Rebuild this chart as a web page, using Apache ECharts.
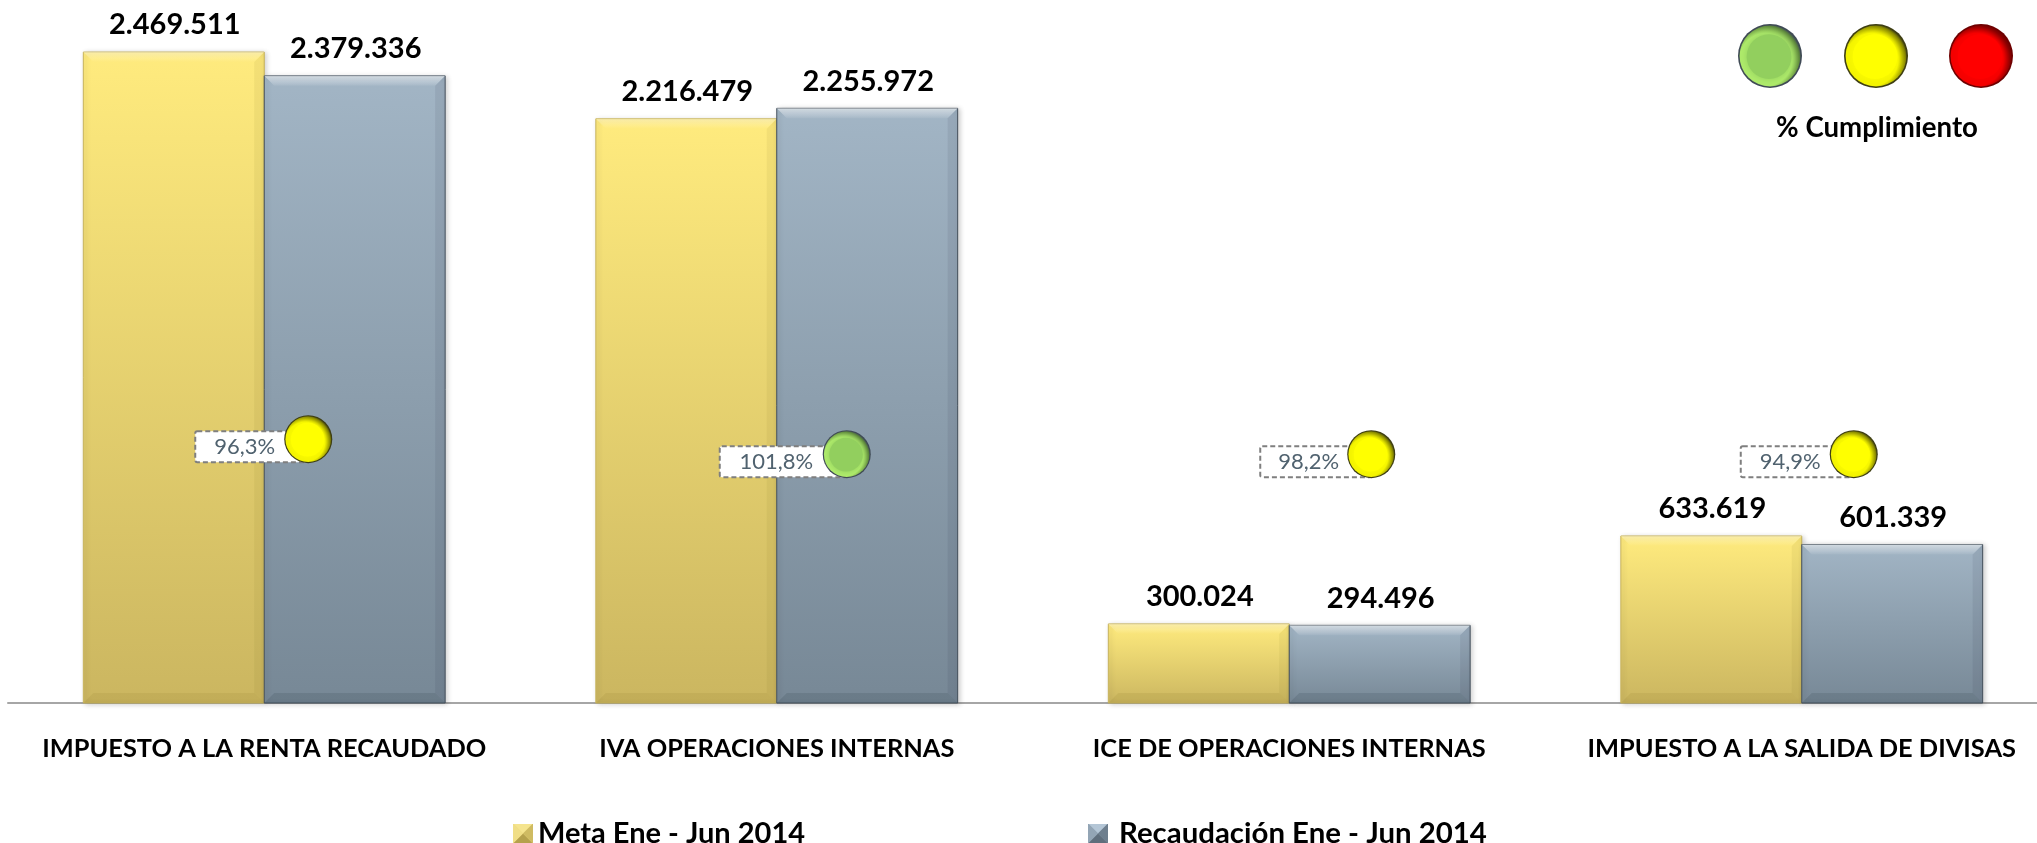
<!DOCTYPE html>
<html><head><meta charset="utf-8">
<script src="https://cdn.jsdelivr.net/npm/echarts@6/dist/echarts.min.js"></script>
<style>html,body{margin:0;padding:0;background:#fff;overflow:hidden}#c{width:2037px;height:843px}</style>
</head><body><div id="c"></div>
<script>
const categories = ['IMPUESTO A LA RENTA RECAUDADO','IVA OPERACIONES INTERNAS','ICE DE OPERACIONES INTERNAS','IMPUESTO A LA SALIDA DE DIVISAS'];
const metaName = 'Meta Ene - Jun 2014';
const recaudName = 'Recaudación Ene - Jun 2014';
const meta = [2469511, 2216479, 300024, 633619];
const recaudacion = [2379336, 2255972, 294496, 601339];
const cumplimiento = ['96,3%','101,8%','98,2%','94,9%'];
const semaforo = ['yellow','green','yellow','yellow'];
const markerLevel = [1001000, 944000, 944000, 944000];
const markerShift = [44, 70, 82, 52];
const markerBox = [113, 127, 111, 113];
const yMax = 2667000;

const FONT = 'Lato';
const fmt = v => String(v).replace(/\B(?=(\d{3})+(?!\d))/g, '.');
const linear = (a, b) => ({type:'linear', x:0, y:0, x2:0, y2:1, colorStops:[{offset:0,color:a},{offset:1,color:b}]});

const looks = {
  meta:  {top:'#FFEB7E', bottom:'#CBB660', edge:'#C8B45C', hi:'rgba(255,255,255,.36)', hi2:'rgba(255,255,255,0)', dark:'rgba(120,100,20,.08)', low:'rgba(120,100,20,.10)', side:-1},
  recaud:{top:'#A2B5C5', bottom:'#778896', edge:'#46525E', hi:'rgba(255,255,255,.55)', hi2:'rgba(255,255,255,.05)', dark:'rgba(20,30,45,.08)', low:'rgba(20,30,45,.12)', side:1}
};
const palettes = {
  yellow:{rim:'#3E3E12', shade:'#8A8A00', face:'#FFFF00', glow:'#F4F400'},
  green: {rim:'#3F4A55', shade:'#5F8A3C', face:'#92CF5E', glow:'#AEEB6A'},
  red:   {rim:'#6E0000', shade:'#8A0000', face:'#FF0000', glow:'#F40000'}
};

function sphere(cx, cy, r, name, z) {
  const p = palettes[name];
  return [
    {type:'circle', z2:z, shape:{cx, cy, r}, style:{fill:p.rim}},
    {type:'circle', z2:z+1, shape:{cx, cy, r:r*0.95}, style:{fill:{type:'radial', x:0.43, y:0.56, r:0.6,
      colorStops:[{offset:0,color:p.glow},{offset:0.72,color:p.glow},{offset:0.92,color:p.shade},{offset:1,color:p.rim}]}}},
    {type:'circle', z2:z+2, shape:{cx:cx-r*0.03, cy:cy+r*0.02, r:r*0.7}, style:{fill:p.face, shadowBlur:r*0.2, shadowColor:p.face}}
  ];
}

function barRenderer(look) {
  return function (params, api) {
    const base = api.coord([api.value(0), 0]);
    const tip = api.coord([api.value(0), api.value(1)]);
    const w = api.size([1, 0])[0] * 0.353;
    const x0 = look.side < 0 ? base[0] - w : base[0];
    const x1 = x0 + w, y0 = tip[1], y1 = base[1], b = 10;
    return {type:'group', children:[
      {type:'rect', shape:{x:x0, y:y0, width:w, height:y1-y0},
       style:{fill:linear(look.top, look.bottom), stroke:look.edge, lineWidth:1,
              shadowBlur:5, shadowOffsetX:2, shadowOffsetY:1, shadowColor:'rgba(0,0,0,.2)'}},
      {type:'polygon', shape:{points:[[x0,y0],[x1,y0],[x1-b,y0+b],[x0+b,y0+b]]}, style:{fill:linear(look.hi, look.hi2)}},
      {type:'polygon', shape:{points:[[x0,y1],[x1,y1],[x1-b,y1-b],[x0+b,y1-b]]}, style:{fill:look.low}},
      {type:'polygon', shape:{points:[[x1,y0],[x1,y1],[x1-b,y1-b],[x1-b,y0+b]]}, style:{fill:look.dark}},
      {type:'text', style:{text:fmt(api.value(1)), x:(x0+x1)/2+1, y:y0-27, align:'center', verticalAlign:'middle',
                           fill:'#000', font:'bold 29px '+FONT}}
    ]};
  };
}

function markerRenderer(params, api) {
  const i = api.value(0);
  const p = api.coord([i, api.value(1)]);
  const cx = p[0] + markerShift[i], cy = p[1], bw = markerBox[i];
  return {type:'group', children:[
    {type:'rect', z2:1, shape:{x:cx-bw, y:cy-8, width:bw, height:31, r:2},
     style:{fill:'#fff', stroke:'#7F7F7F', lineWidth:2, lineDash:[5,3]}},
    {type:'text', z2:2, style:{text:cumplimiento[i], x:cx-bw+(bw-14)/2, y:cy+8, align:'center', verticalAlign:'middle',
                               fill:'#50626F', font:'22px '+FONT}},
    ...sphere(cx, cy, 24, semaforo[i], 3)
  ]};
}

function bevelIcon(l, t, r, b, m) {
  const svg = `<svg xmlns="http://www.w3.org/2000/svg" width="20" height="20"><rect width="20" height="20" fill="${m}"/>` +
    `<polygon points="0,0 20,0 10,10" fill="${t}"/><polygon points="0,20 20,20 10,10" fill="${b}"/>` +
    `<polygon points="0,0 0,20 10,10" fill="${l}"/><polygon points="20,0 20,20 10,10" fill="${r}"/></svg>`;
  return 'image://data:image/svg+xml;charset=utf-8,' + encodeURIComponent(svg);
}

const chart = echarts.init(document.getElementById('c'));
const legendBase = {fontFamily:FONT, fontWeight:'bold', color:'#000'};
chart.setOption({
  backgroundColor:'#fff',
  animation:false,
  grid:{left:8, top:0, width:2050, height:703, containLabel:false, outerBoundsMode:'none'},
  xAxis:{type:'category', data:categories,
    axisLine:{show:true, lineStyle:{color:'#A6A6A6', width:2}},
    axisTick:{show:false},
    axisLabel:{interval:0, margin:33, color:'#000', fontFamily:FONT, fontWeight:'bold', fontSize:25.4}},
  yAxis:{type:'value', min:0, max:yMax, show:false, splitLine:{show:false}},
  legend:[
    {data:[{name:metaName, icon:bevelIcon('#F0DE86','#F5E48E','#CFBB62','#B5A14C','#E6D27A')}],
     left:508, top:814, itemWidth:20, itemHeight:22, textStyle:{...legendBase, fontSize:29}, selectedMode:false},
    {data:[{name:recaudName, icon:bevelIcon('#93A5B5','#B4C6D6','#6E7F8E','#5F6E7C','#8496A6')}],
     left:1083, top:814, itemWidth:20, itemHeight:22, textStyle:{...legendBase, fontSize:29.4, padding:[0,0,0,6]}, selectedMode:false}
  ],
  graphic:[
    {type:'group', x:0, y:0, silent:true, children:[
      ...sphere(1770, 56, 32, 'green', 1),
      ...sphere(1876, 56, 32, 'yellow', 1),
      ...sphere(1981, 56, 32, 'red', 1),
      {type:'text', style:{text:'% Cumplimiento', x:1877, y:128, align:'center', verticalAlign:'middle',
                           fill:'#000', font:'bold 27.6px '+FONT}}
    ]}
  ],
  series:[
    {type:'custom', name:metaName, clip:false, z:2, renderItem:barRenderer(looks.meta),
     itemStyle:{color:'#DCC86C'}, encode:{x:0,y:1}, data:meta.map((v,i)=>[i,v])},
    {type:'custom', name:recaudName, clip:false, z:3, renderItem:barRenderer(looks.recaud),
     itemStyle:{color:'#8496A6'}, encode:{x:0,y:1}, data:recaudacion.map((v,i)=>[i,v])},
    {type:'custom', name:'% Cumplimiento', clip:false, z:5, renderItem:markerRenderer,
     encode:{x:0,y:1}, data:markerLevel.map((v,i)=>[i,v])}
  ]
});
</script></body></html>
